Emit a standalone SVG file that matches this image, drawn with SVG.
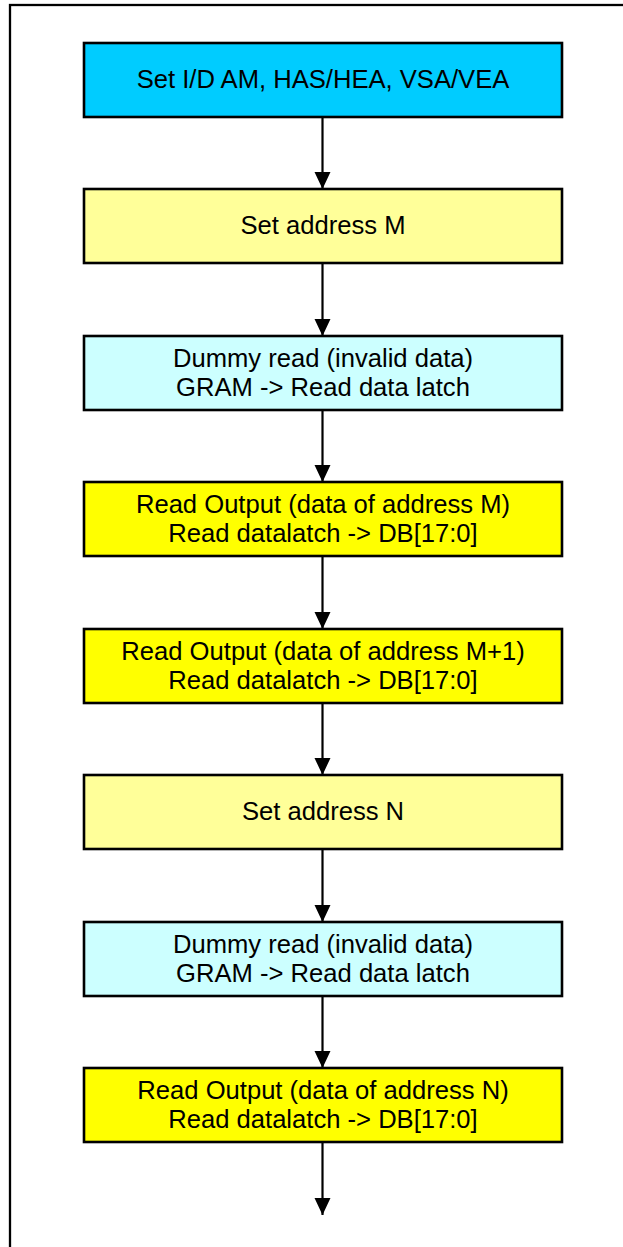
<svg xmlns="http://www.w3.org/2000/svg" width="623" height="1247" viewBox="0 0 623 1247">
<defs>
<style>
.box{stroke:#000;stroke-width:2.6}
.c1{fill:#00CCFF}.c2{fill:#FFFF99}.c3{fill:#CCFFFF}.c4{fill:#FFFF00}
text{font-family:"Liberation Sans",Arial,sans-serif;font-size:25.6px;fill:#000;text-anchor:middle}
.conn line{stroke:#000;stroke-width:2.2}
</style>
<marker id="ah" markerUnits="userSpaceOnUse" markerWidth="18" markerHeight="18" viewBox="0 0 18 18" refX="17" refY="9" orient="auto">
<path d="M0,1 L17,9 L0,17 Z" fill="#000"/>
</marker>
</defs>
<rect width="623" height="1247" fill="#fff"/>
<rect x="10" y="5" width="720" height="1320" fill="none" stroke="#000" stroke-width="2.3"/>
<g id="n1"><rect class="box c1" x="84" y="43" width="478" height="74"/><text x="323" y="88">Set I/D AM, HAS/HEA, VSA/VEA</text></g>
<g id="n2"><rect class="box c2" x="84" y="189" width="478" height="74"/><text x="323" y="234">Set address M</text></g>
<g id="n3"><rect class="box c3" x="84" y="336" width="478" height="74"/><text x="323" y="367">Dummy read (invalid data)</text><text x="323" y="396">GRAM -&gt; Read data latch</text></g>
<g id="n4"><rect class="box c4" x="84" y="482" width="478" height="74"/><text x="323" y="513">Read Output (data of address M)</text><text x="323" y="542">Read datalatch -&gt; DB[17:0]</text></g>
<g id="n5"><rect class="box c4" x="84" y="629" width="478" height="74"/><text x="323" y="660">Read Output (data of address M+1)</text><text x="323" y="689">Read datalatch -&gt; DB[17:0]</text></g>
<g id="n6"><rect class="box c2" x="84" y="775" width="478" height="74"/><text x="323" y="820">Set address N</text></g>
<g id="n7"><rect class="box c3" x="84" y="922" width="478" height="74"/><text x="323" y="953">Dummy read (invalid data)</text><text x="323" y="982">GRAM -&gt; Read data latch</text></g>
<g id="n8"><rect class="box c4" x="84" y="1068" width="478" height="74"/><text x="323" y="1099">Read Output (data of address N)</text><text x="323" y="1128">Read datalatch -&gt; DB[17:0]</text></g>
<g class="conn" id="connectors">
<line x1="322.5" y1="118" x2="322.5" y2="189" marker-end="url(#ah)"/>
<line x1="322.5" y1="264" x2="322.5" y2="336" marker-end="url(#ah)"/>
<line x1="322.5" y1="411" x2="322.5" y2="482" marker-end="url(#ah)"/>
<line x1="322.5" y1="557" x2="322.5" y2="629" marker-end="url(#ah)"/>
<line x1="322.5" y1="704" x2="322.5" y2="775" marker-end="url(#ah)"/>
<line x1="322.5" y1="850" x2="322.5" y2="922" marker-end="url(#ah)"/>
<line x1="322.5" y1="997" x2="322.5" y2="1068" marker-end="url(#ah)"/>
<line x1="322.5" y1="1143" x2="322.5" y2="1215" marker-end="url(#ah)"/>
</g>
</svg>
